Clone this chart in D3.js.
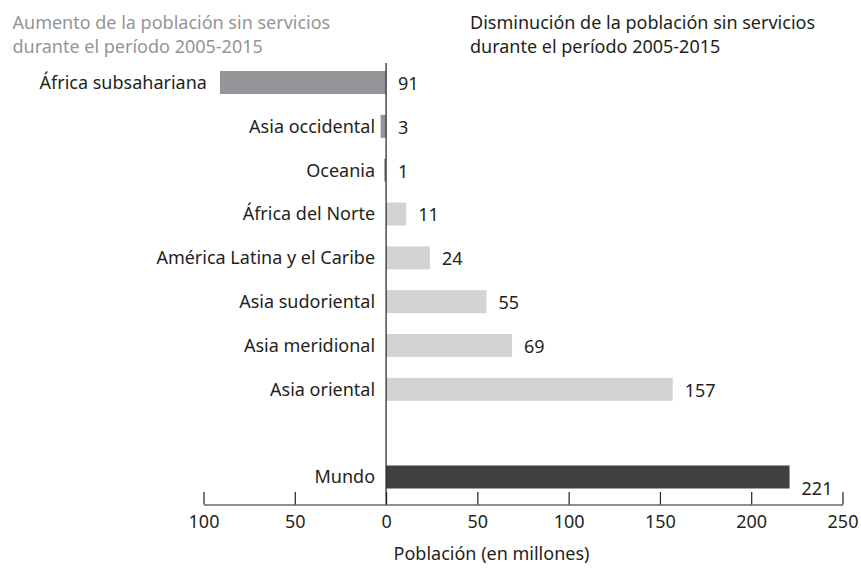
<!DOCTYPE html>
<html><head><meta charset="utf-8">
<script src="https://cdn.jsdelivr.net/npm/d3@7"></script>
<style>
  body{margin:0;background:#fff}
  svg text{font-family:"Noto Sans",sans-serif;font-size:18px;fill:#231f20}
</style></head>
<body><svg id="chart" width="861" height="573"></svg>
<script>
/* Data */
const regiones = [
  "África subsahariana", "Asia occidental", "Oceania", "África del Norte",
  "América Latina y el Caribe", "Asia sudoriental", "Asia meridional",
  "Asia oriental", "Mundo"
];
// millions of people, absolute change 2005-2015
const cambios   = [91, 3, 1, 11, 24, 55, 69, 157, 221];
// "aumento" = more people without services, "disminucion" = fewer
const sentidos  = ["aumento", "aumento", "aumento", "disminucion", "disminucion",
                   "disminucion", "disminucion", "disminucion", "mundo"];
const tickVals  = [-100, -50, 0, 50, 100, 150, 200, 250];
const tituloIzq = ["Aumento de la población sin servicios", "durante el período 2005-2015"];
const tituloDer = ["Disminución de la población sin servicios", "durante el período 2005-2015"];
const ejeTitulo = "Población (en millones)";

const colores = { aumento:"#939598", disminucion:"#d1d3d4", mundo:"#404041" };

/* Layout */
const svg = d3.select("#chart");
const axisY = 504.5;

const x = d3.scaleLinear().domain([-100, 250]).range([203.5, 842.5]);

// spacer slot between the regions and the world total
const slots = [...regiones.slice(0, 8), "__gap", "Mundo"];
const y = d3.scaleBand().domain(slots).range([71, 488.5]).paddingInner(0.475).paddingOuter(0);

const rows = regiones.map((r, i) => ({
  region: r, valor: cambios[i], sentido: sentidos[i],
  signed: sentidos[i] === "aumento" ? -cambios[i] : cambios[i]
}));

/* Titles */
function title(lines, xPos, fill){
  const t = svg.append("text").attr("x", xPos).attr("y", 29).style("fill", fill);
  lines.forEach((l, i) => t.append("tspan").attr("x", xPos).attr("dy", i ? 24 : 0).text(l));
}
title(tituloIzq, 12.5, "#939598");
title(tituloDer, 470, "#231f20");

/* Bars */
svg.append("g").selectAll("rect").data(rows).join("rect")
    .attr("x", d => x(Math.min(0, d.signed)))
    .attr("width", d => Math.abs(x(d.signed) - x(0)))
    .attr("y", d => y(d.region))
    .attr("height", y.bandwidth())
    .attr("fill", d => colores[d.sentido]);

/* Region labels: next to the zero line, or left of a long bar going left */
svg.append("g").selectAll("text").data(rows).join("text")
    .attr("x", d => {
      const bx = x(Math.min(0, d.signed));
      return bx < x(0) - 11 ? bx - 13 : x(0) - 11;
    })
    .attr("y", d => y(d.region) + y.bandwidth() / 2)
    .attr("dy", "0.36em")
    .attr("text-anchor", "end")
    .text(d => d.region);

/* Value labels (world total sits lower, on the bar's bottom edge) */
svg.append("g").selectAll("text").data(rows).join("text")
    .attr("x", d => x(Math.max(0, d.signed)) + 12)
    .attr("y", d => d.sentido === "mundo" ? y(d.region) + y.bandwidth() : y(d.region) + y.bandwidth() / 2 + 1)
    .attr("dy", "0.36em")
    .text(d => d.valor);

/* Zero line */
svg.append("line")
    .attr("x1", x(0)).attr("x2", x(0))
    .attr("y1", 63).attr("y2", axisY)
    .attr("stroke", "#231f20").attr("stroke-width", 1.2);

/* Bottom axis, ticks pointing up */
const ax = svg.append("g")
    .attr("transform", `translate(0,${axisY})`)
    .call(d3.axisBottom(x).tickValues(tickVals).tickSize(-12.5).tickSizeOuter(0)
            .tickPadding(11).tickFormat(d => Math.abs(d)));
ax.select(".domain").attr("stroke", "#231f20").attr("stroke-width", 1.2);
ax.selectAll(".tick line").attr("stroke", "#231f20").attr("stroke-width", 1.2);
ax.selectAll(".tick text").style("fill", "#231f20");
ax.attr("font-family", null).attr("font-size", null);

svg.append("text")
    .attr("x", 491.5).attr("y", 560)
    .attr("text-anchor", "middle")
    .text(ejeTitulo);
</script></body></html>
